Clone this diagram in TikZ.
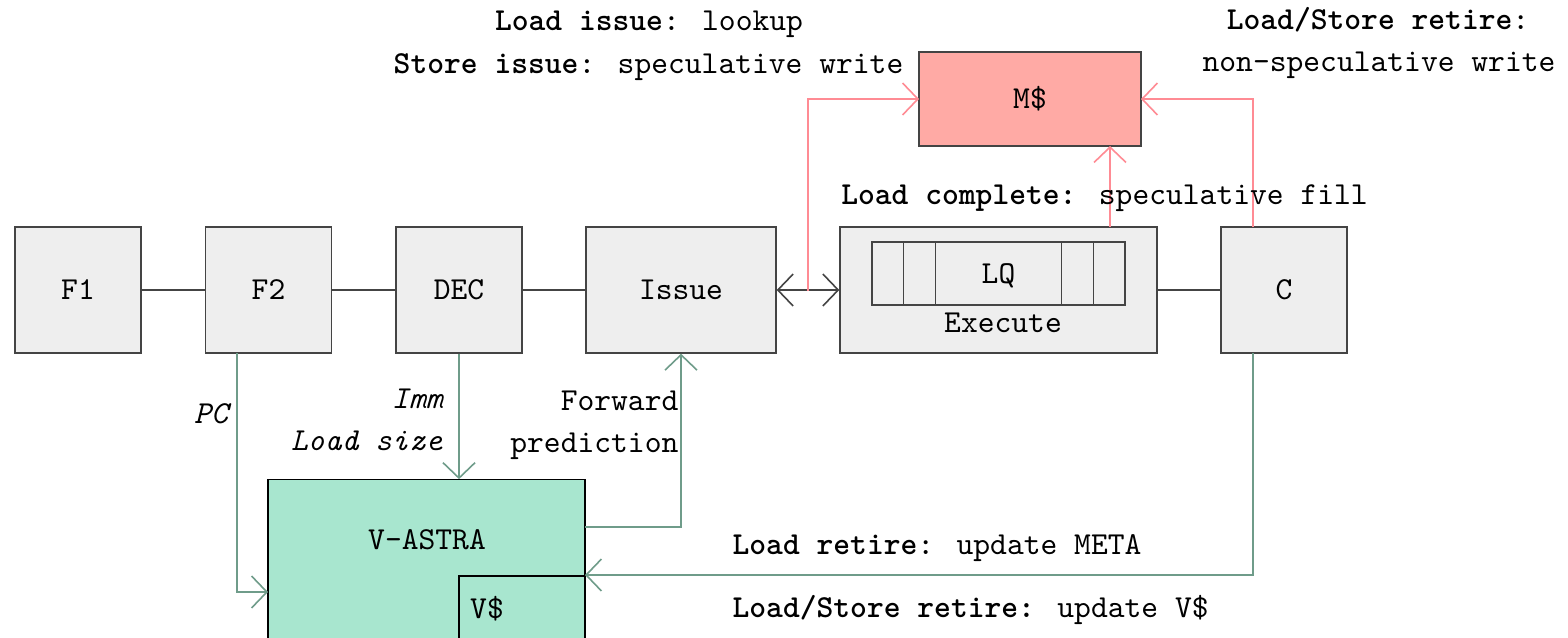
\documentclass[tikz,border=0pt]{standalone}
\usetikzlibrary{arrows.meta,calc}
\definecolor{boxgray}{HTML}{EEEEEE}
\definecolor{mfill}{HTML}{FFAAA5}
\definecolor{vfill}{HTML}{A8E6CF}
\definecolor{pinkline}{HTML}{FF8B94}
\definecolor{greenline}{HTML}{6F9C8A}
\definecolor{darkline}{HTML}{444444}
\begin{document}
\begin{tikzpicture}[x=0.3125pt,y=-0.3125pt,
  font=\ttfamily,
  stage/.style={draw=darkline,line width=0.4pt,fill=boxgray,minimum width=39.4pt,minimum height=39.4pt,inner sep=0pt},
  lbl/.style={inner sep=0pt},
  pipe/.style={draw=darkline,line width=0.4pt},
  barb/.style={-{Straight Barb[length=4.8pt,width=10pt,line width=0.5pt]}},
  pinkarrow/.style={draw=pinkline,line width=0.5pt,barb},
  greenarrow/.style={draw=greenline,line width=0.5pt,barb}]
\useasboundingbox (0,0) rectangle (1568,637);
\clip (0,0) rectangle (1568,637);

% pipeline stages
\node[stage] (f1) at (78,290) {F1};
\node[stage] (f2) at (268.5,290) {F2};
\node[stage] (dec) at (459,290) {DEC};
\node[stage,minimum width=59.4pt] (issue) at (681,290) {Issue};
\node[stage,minimum width=99.1pt] (exec) at (998.5,290) {};
\node[stage] (c) at (1284,290) {C};

% LQ inside execute
\node[draw=darkline,line width=0.4pt,fill=boxgray,minimum width=79.1pt,minimum height=19.7pt,inner sep=0pt] (lq) at (998.5,273.5) {};
\node[lbl] (lqlbl) at (998.5,276) {LQ};
\draw[pipe] ([xshift=10pt]lq.north west) -- ([xshift=10pt]lq.south west);
\draw[pipe] ([xshift=20pt]lq.north west) -- ([xshift=20pt]lq.south west);
\draw[pipe] ([xshift=-10pt]lq.north east) -- ([xshift=-10pt]lq.south east);
\draw[pipe] ([xshift=-20pt]lq.north east) -- ([xshift=-20pt]lq.south east);
\node[lbl,anchor=mid] (execlbl) at (1003,326) {Execute};

% M$
\node[draw=darkline,line width=0.4pt,fill=mfill,minimum width=69.4pt,minimum height=29.4pt,inner sep=0pt] (mc) at (1030,99) {M\$};

% V-ASTRA and V$
\node[draw=black,line width=0.4pt,fill=vfill,minimum width=99.1pt,minimum height=62pt,inner sep=0pt] (vastra) at (426.5,579) {};
\node[lbl] (vastralbl) at (427,540) {V-ASTRA};
\node[draw=black,line width=0.4pt,fill=vfill,minimum width=39.4pt,minimum height=39.4pt,inner sep=0pt] (vc) at (522,639) {};
\node[lbl] (vclbl) at (487,609) {V\$};

% pipeline connectors
\draw[pipe] (f1) -- (f2);
\draw[pipe] (f2) -- (dec);
\draw[pipe] (dec) -- (issue);
\draw[pipe] (exec) -- (c);
\draw[pipe,{Straight Barb[length=4.8pt,width=10pt,line width=0.5pt]}-{Straight Barb[length=4.8pt,width=10pt,line width=0.5pt]}] (issue.east) -- (exec.west);

% pink connectors
\coordinate (pi) at (808,291);
\coordinate (mw) at (919,99);
\draw[pinkarrow] (pi) |- (mw);
\coordinate (ex) at (1110,227);
\coordinate (ms) at (1110,146);
\draw[pinkarrow] (ex) -- (ms);
\coordinate (cn) at (1253,227);
\coordinate (me) at (1141,99);
\draw[pinkarrow] (cn) |- (me);

% green connectors
\coordinate (f2s) at (237,353);
\coordinate (vw) at (268,592);
\draw[greenarrow] (f2s) |- (vw);
\draw[greenarrow] (dec.south) -- (vastra.north -| dec.south);
\coordinate (ve) at (585,527);
\draw[greenarrow] (ve) -| (issue.south);
\coordinate (cs) at (1253,353);
\coordinate (vr) at (585,575);
\draw[greenarrow] (cs) |- (vr);

% labels
\node[lbl,anchor=mid] (t1) at (649,24) {\textbf{Load issue}: lookup};
\node[lbl,anchor=mid] (t2) at (648.5,67) {\textbf{Store issue}: speculative write};
\node[lbl,anchor=mid] (t3) at (1378,23) {\textbf{Load/Store retire}:};
\node[lbl,anchor=mid] (t4) at (1379,65) {non-speculative write};
\node[lbl,anchor=mid] (t5) at (1104.5,198) {\textbf{Load complete:} speculative fill};
\node[lbl,anchor=mid east] (t6) at (443,402) {\itshape Imm};
\node[lbl,anchor=mid east] (t7) at (443,444) {\itshape Load size};
\node[lbl,anchor=mid east] (t8) at (679,404) {Forward};
\node[lbl,anchor=mid east] (t9) at (679,446) {prediction};
\node[lbl,anchor=mid] (t10) at (211,417) {\itshape PC};
\node[lbl,anchor=mid west] (t11) at (732,548) {\textbf{Load retire}: update META};
\node[lbl,anchor=mid west] (t12) at (732,611) {\textbf{Load/Store retire:} update V\$};
\end{tikzpicture}
\end{document}
